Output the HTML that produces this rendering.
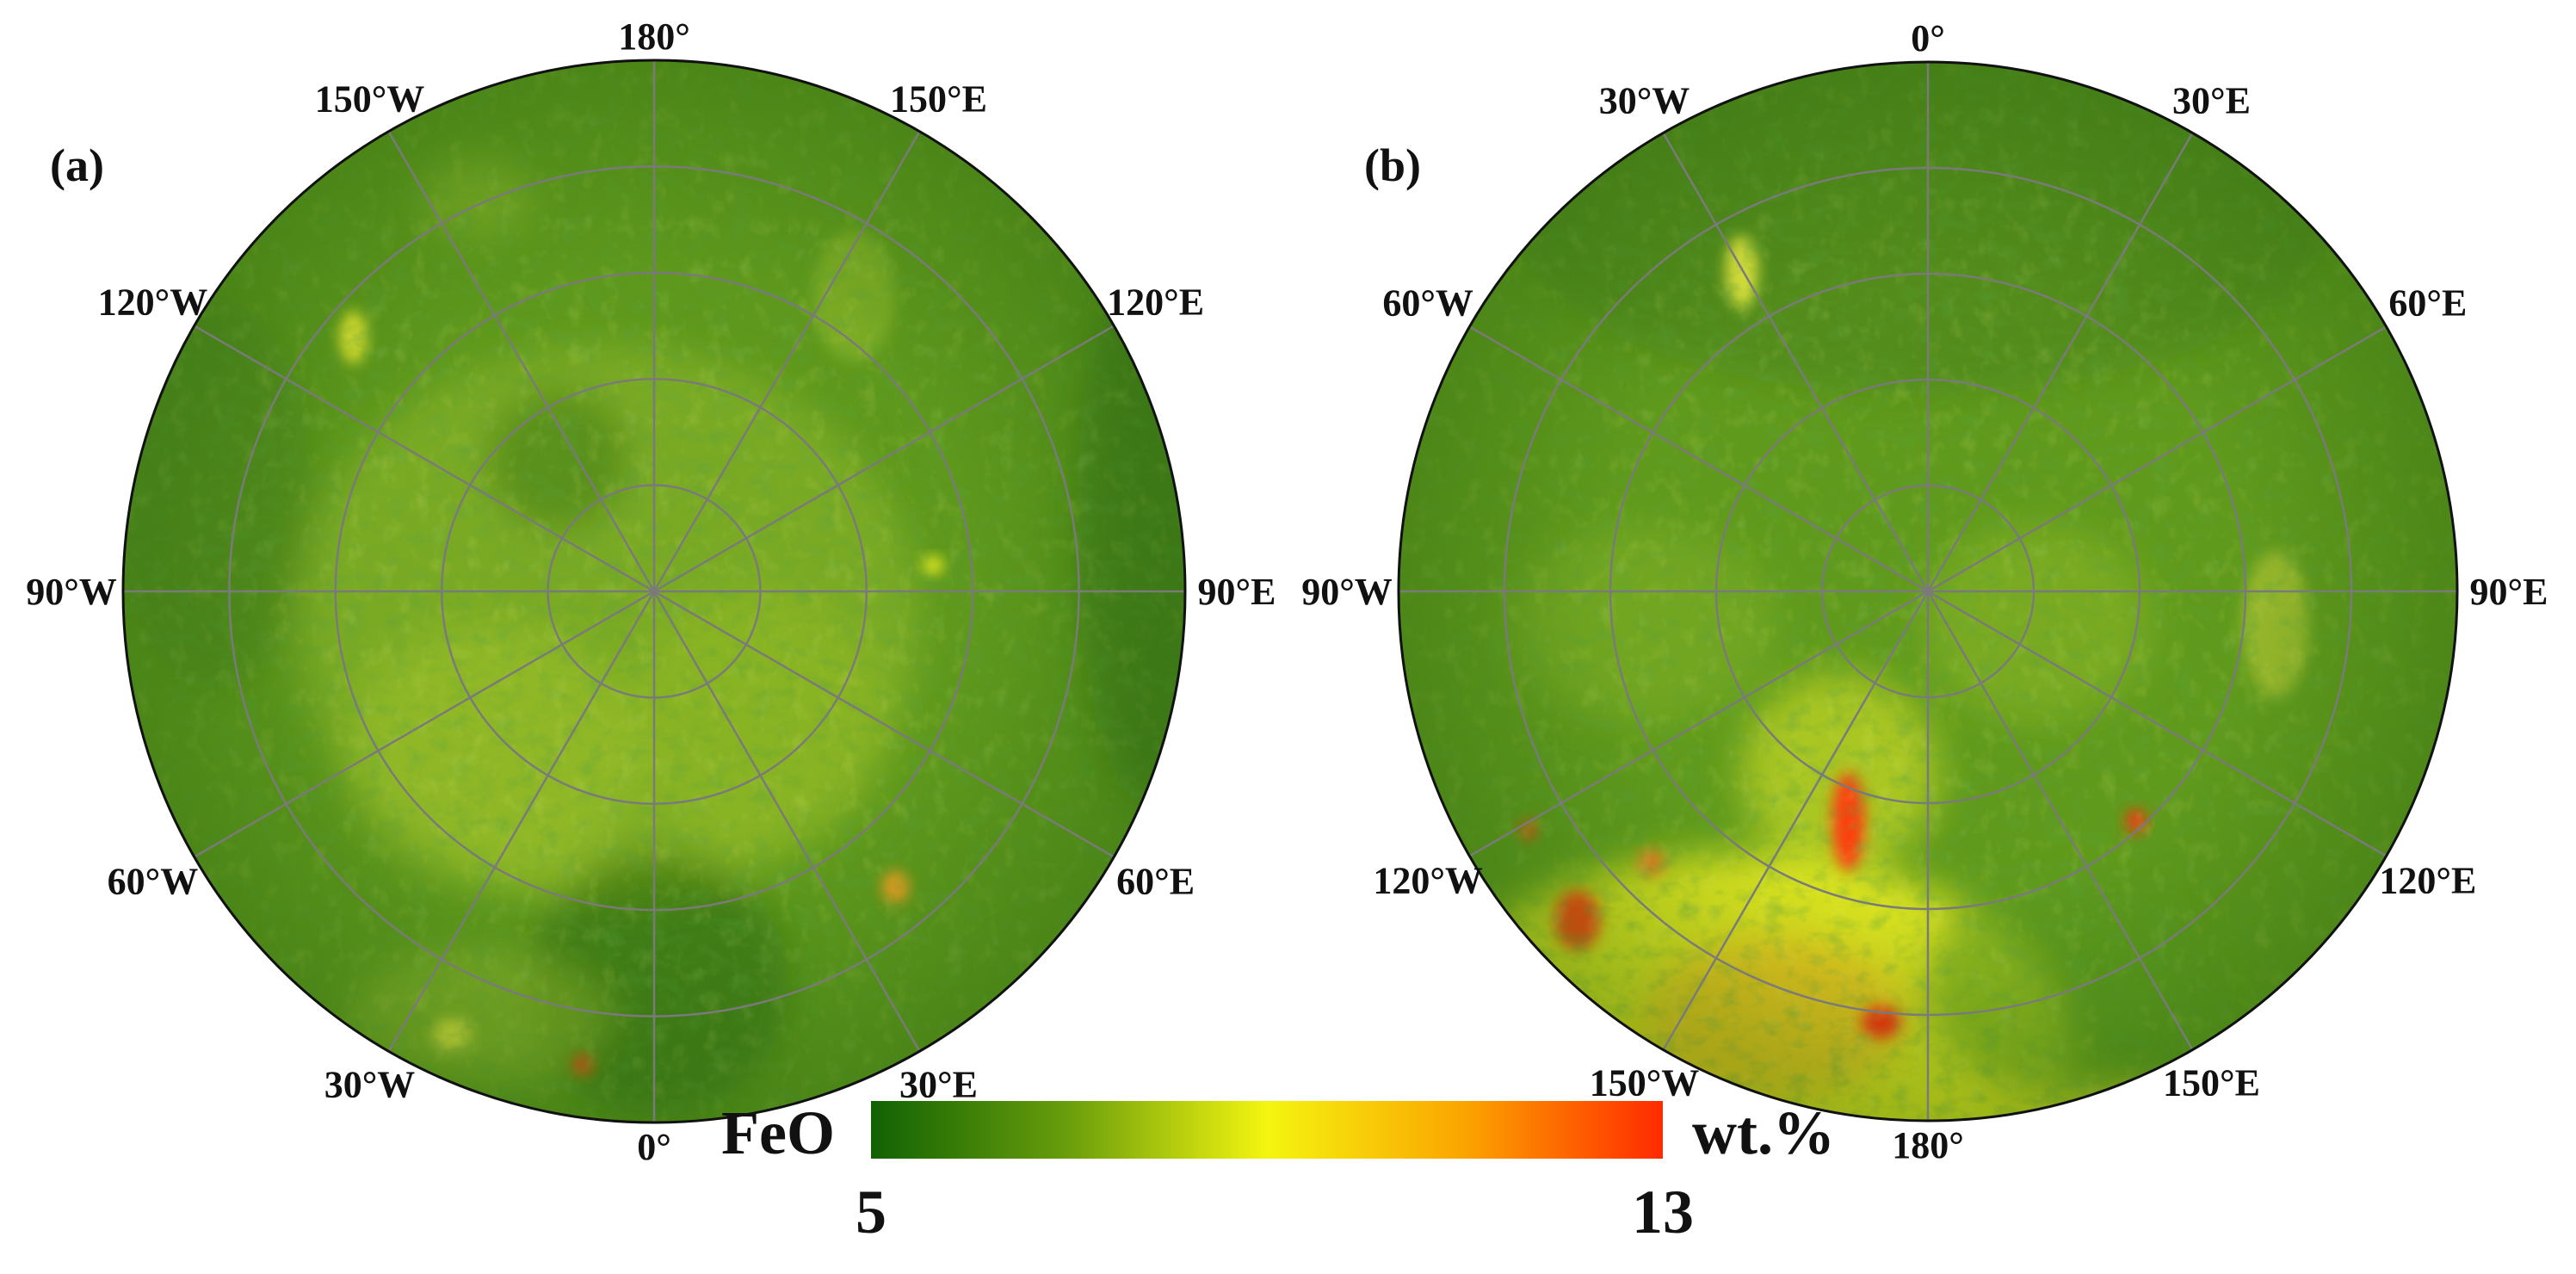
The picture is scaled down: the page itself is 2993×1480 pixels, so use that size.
<!DOCTYPE html>
<html><head><meta charset="utf-8">
<style>
html,body{margin:0;padding:0;background:#fff;}
svg{display:block;}
text{font-family:"Liberation Serif",serif;font-weight:bold;fill:#111;}
</style></head>
<body>
<svg id="fig" width="2993" height="1480" viewBox="0 0 2993 1480" xmlns="http://www.w3.org/2000/svg">
<defs>
  <filter id="blur20" x="-50%" y="-50%" width="200%" height="200%"><feGaussianBlur stdDeviation="22"/></filter>
  <filter id="blur8" x="-50%" y="-50%" width="200%" height="200%"><feGaussianBlur stdDeviation="8"/></filter>
  <filter id="noise" x="0" y="0" width="100%" height="100%">
    <feTurbulence type="fractalNoise" baseFrequency="0.04 0.06" numOctaves="3" seed="4"/>
    <feColorMatrix type="matrix" values="0 0 0 0 0.1  0 0 0 0 0.35  0 0 0 0 0.05  0 0 0 1.6 -0.75"/>
  </filter>
  <filter id="noise2" x="0" y="0" width="100%" height="100%">
    <feTurbulence type="fractalNoise" baseFrequency="0.05 0.04" numOctaves="3" seed="9"/>
    <feColorMatrix type="matrix" values="0 0 0 0 0.85  0 0 0 0 0.9  0 0 0 0 0.2  0 0 0 1.5 -0.8"/>
  </filter>
  <radialGradient id="vigA" cx="0.5" cy="0.5" r="0.5">
    <stop offset="0.6" stop-color="#2f6a10" stop-opacity="0"/>
    <stop offset="1" stop-color="#2f6a10" stop-opacity="0.4"/>
  </radialGradient>
  <linearGradient id="cbar" x1="0" x2="1" y1="0" y2="0">
    <stop offset="0" stop-color="#116204"/>
    <stop offset="0.25" stop-color="#6a9e0c"/>
    <stop offset="0.5" stop-color="#f4f510"/>
    <stop offset="0.75" stop-color="#fba400"/>
    <stop offset="1" stop-color="#ff2a00"/>
  </linearGradient>
  <clipPath id="clipA"><circle cx="760" cy="687" r="617"/></clipPath>
  <clipPath id="clipB"><circle cx="2240" cy="687" r="615"/></clipPath>
</defs>
<g id="mapA"></g>
<g id="mapB"></g>
<g id="labels"></g>
<g id="colorbar">
  <rect x="1012" y="1279" width="920" height="67" fill="url(#cbar)"/>
  <text x="970" y="1340" font-size="72" text-anchor="end">FeO</text>
  <text x="1966" y="1340" font-size="72">wt.%</text>
</g>
</svg>
<script>
const S = 1.909;
const cbTicks = ['5','13'];
const cbTickX = [1012, 1932];
const ringFractions = [0.2, 0.4, 0.6, 0.8];
const meridianDeg = [0,30,60,90,120,150,180,210,240,270,300,330];
const labelsA = ['180°','150°E','120°E','90°E','60°E','30°E','0°','30°W','60°W','90°W','120°W','150°W'];
const labelsB = ['0°','30°E','60°E','90°E','120°E','150°E','180°','150°W','120°W','90°W','60°W','30°W'];
// blobs: [x, y, rx, ry, color, opacity] in display coordinates
const blobsA = [
  [370,380,190,170,'#a8c82c',0.38],[300,460,90,80,'#b8d030',0.35],[460,440,80,80,'#a8c82a',0.3],
  [340,280,45,45,'#3a7612',0.5],[400,600,80,80,'#2f6d10',0.6],[700,320,45,170,'#2c6810',0.5],
  [130,300,60,120,'#3c7614',0.35],[290,620,80,40,'#a8c830',0.45],[215,205,8,16,'#ecec30',1],
  [568,344,6,5,'#f4f420',1],[545,540,8,10,'#f4a020',1],[355,648,6,6,'#ff4010',1],[275,630,12,10,'#e8e840',0.9],
  [290,120,35,25,'#a4c830',0.4],[520,180,25,40,'#a8c830',0.4]
];
const blobsB = [
  [1170,130,250,110,'#3c7812',0.4],[1060,640,200,120,'#eeee1c',0.85],[1210,715,170,60,'#eaea20',0.85],
  [990,690,90,70,'#f4e818',0.85],[1100,740,160,40,'#f2e018',0.9],[1120,470,60,60,'#d8e22a',0.6],[1080,620,80,50,'#f6a81e',0.5],
  [1125,500,10,30,'#ff3a10',0.95],[960,560,14,18,'#ff3a10',0.95],[1145,622,12,10,'#ff2a10',1],
  [1300,500,6,7,'#ff3010',1],[1005,525,8,8,'#ff6a20',0.8],[930,505,5,6,'#ff4010',0.9],
  [1260,600,90,70,'#5c9a1a',0.6],[1385,380,20,45,'#dcdc40',0.45],[1060,165,10,22,'#f0f040',0.9],
  [1240,380,70,60,'#a8c82a',0.35],[1000,380,80,60,'#9cc028',0.3]
];
const NS='http://www.w3.org/2000/svg';
function el(t,a,p){const e=document.createElementNS(NS,t);for(const k in a)e.setAttribute(k,a[k]);p.appendChild(e);return e;}
function drawMap(gid,cx,cy,r,clip,blobs,labels,base,tag){
  const g=document.getElementById(gid);
  const c=el('g',{'clip-path':'url(#'+clip+')'},g);
  el('rect',{x:cx-r,y:cy-r,width:2*r,height:2*r,fill:base},c);
  const bg=el('g',{filter:'url(#blur20)'},c);
  blobs.forEach(b=>{
    const big=b[2]>30;
    const e=el('ellipse',{cx:b[0]*S,cy:b[1]*S,rx:b[2]*S,ry:b[3]*S,fill:b[4],'fill-opacity':b[5],filter:big?'':'url(#blur8)'},big?bg:c);
    
    
  });
  el('rect',{x:cx-r,y:cy-r,width:2*r,height:2*r,filter:'url(#noise)',opacity:0.5},c);
  el('rect',{x:cx-r,y:cy-r,width:2*r,height:2*r,filter:'url(#noise2)',opacity:0.25},c);
  el('circle',{cx:cx,cy:cy,r:r,fill:'url(#vigA)'},c);
  ringFractions.forEach(f=>{
    const ring=el('circle',{cx:cx,cy:cy,r:r*f,fill:'none',stroke:'#7a7a7a','stroke-width':2.5},g);
    
    
  });
  meridianDeg.forEach((d,i)=>{
    const a=d*Math.PI/180;
    const ln=el('line',{x1:cx,y1:cy,x2:cx+r*Math.sin(a),y2:cy-r*Math.cos(a),stroke:'#7a7a7a','stroke-width':2.5},g);
    
    
    const ld=r+28+32*Math.abs(Math.sin(a));
    const tx=el('text',{x:cx+ld*Math.sin(a),y:cy-ld*Math.cos(a)+15,'font-size':44,'text-anchor':'middle'},document.getElementById('labels'));
    tx.textContent=labels[i];
    
    
  });
  const o=el('circle',{cx:cx,cy:cy,r:r,fill:'none',stroke:'#111','stroke-width':3},g);
  
  
}
drawMap('mapA',760,687,617,'clipA',blobsA,labelsA,'#5e981c','map-a');
drawMap('mapB',2240,687,615,'clipB',blobsB,labelsB,'#609a1c','map-b');
const L=document.getElementById('labels');
const pa=el('text',{x:58,y:210,'font-size':54},L);pa.textContent='(a)';


const pb=el('text',{x:1585,y:210,'font-size':54},L);pb.textContent='(b)';


const cb=document.getElementById('colorbar');
cbTicks.forEach((t,i)=>{
  const tx=el('text',{x:cbTickX[i],y:1432,'font-size':72,'text-anchor':'middle'},cb);
  tx.textContent=t;
  
  
});
</script>
</body></html>
